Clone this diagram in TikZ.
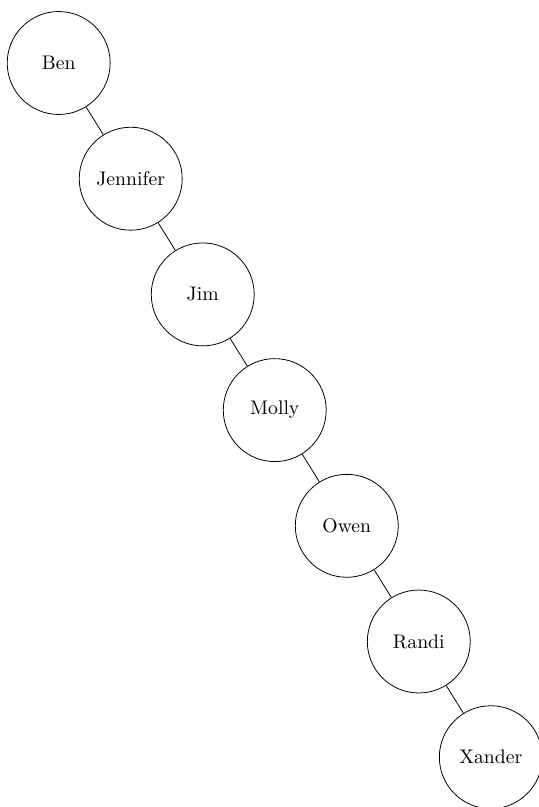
\documentclass[tikz,border=0pt]{standalone}
\usepackage{tikz}
\usetikzlibrary{positioning}
\tikzstyle{nameNode}=[draw,circle,minimum size=52.3pt,inner sep=0pt]
\tikzstyle{treeEdge}=[-]

\begin{document}
\begin{tikzpicture}
  % chain of names
  \useasboundingbox (0,0) rectangle (9.61,-14.41);

  \node[nameNode] (ben) at (1.048, -1.125) {Ben};
  \node[nameNode] (jennifer) at (2.334, -3.191) {Jennifer};
  \node[nameNode] (jim) at (3.620, -5.257) {Jim};
  \node[nameNode] (molly) at (4.906, -7.323) {Molly};
  \node[nameNode] (owen) at (6.192, -9.389) {Owen};
  \node[nameNode] (randi) at (7.478, -11.455) {Randi};
  \node[nameNode] (xander) at (8.764, -13.521) {Xander};

  \draw[treeEdge] (ben) -- (jennifer);
  \draw[treeEdge] (jennifer) -- (jim);
  \draw[treeEdge] (jim) -- (molly);
  \draw[treeEdge] (molly) -- (owen);
  \draw[treeEdge] (owen) -- (randi);
  \draw[treeEdge] (randi) -- (xander);

\end{tikzpicture}
\end{document}
